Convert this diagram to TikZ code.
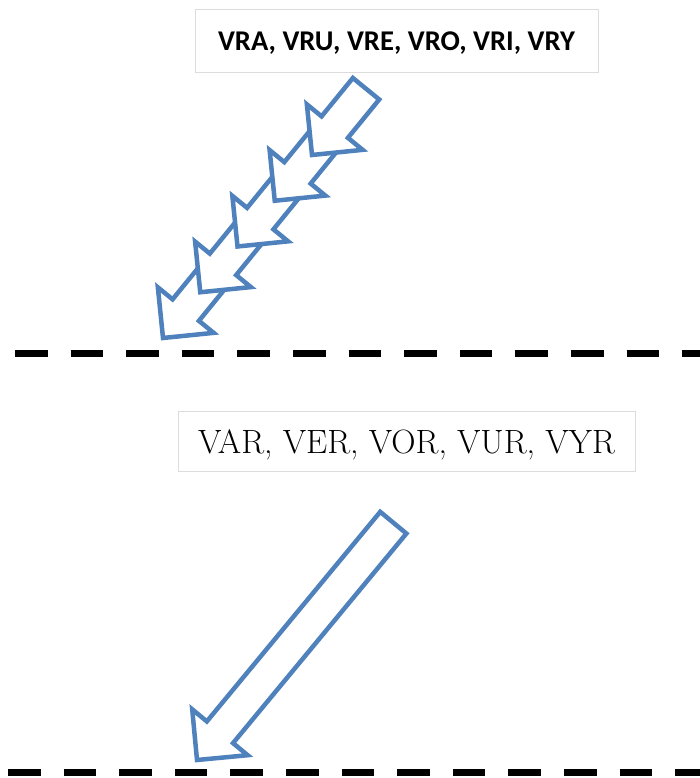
\documentclass[tikz,border=0pt]{standalone}
\usepackage{fontspec}
\newfontfamily\carlitofont{Carlito}
\definecolor{arrowblue}{RGB}{79,129,189}
\definecolor{boxgray}{RGB}{220,220,220}
\newcommand\blockarrow[4]{% tip x, tip y, length, angle
  \begin{scope}[shift={(#1,#2)}, rotate=#4]
    \draw[arrowline] (-#3,17) -- (-#3,-17) -- (-36,-17) -- (-36,-36) -- (0,0)
      -- (-36,36) -- (-36,17) -- cycle;
  \end{scope}}
\begin{document}
\begin{tikzpicture}[x=1pt,y=1pt,
  arrowline/.style={draw=arrowblue, line width=4.5pt, fill=white, line join=miter, miter limit=10},
  dashline/.style={draw=black, line width=7pt, dash pattern=on 32.5pt off 23.1pt},
  labelbox/.style={draw=boxgray, line width=1pt, fill=white, inner sep=0pt, text depth=0pt}]
\useasboundingbox (0,0) rectangle (700,778);
% label boxes
\node[labelbox, minimum width=403pt, minimum height=63pt,
  font={\carlitofont\bfseries\fontsize{28.6}{32}\selectfont}] (top) at (396.5,736.5)
  {VRA, VRU, VRE, VRO, VRI, VRY};
\node[labelbox, minimum width=457pt, minimum height=60pt,
  font={\fontsize{33.7}{38}\selectfont}] (bot) at (406.5,336)
  {VAR, VER, VOR, VUR, VYR};
% dashed lines
\coordinate (d1a) at (15,424.5);
\coordinate (d1b) at (700,424.5);
\coordinate (d2a) at (8,5.5);
\coordinate (d2b) at (700,5.5);
\draw[dashline] (d1a) -- (d1b);
\draw[dashline] (d2a) -- (d2b);
% multi-headed arrow (drawn from last to first)
\blockarrow{163}{440}{80}{230.8}
\blockarrow{200.25}{485.75}{80}{230.8}
\blockarrow{237.5}{531.5}{80}{230.8}
\blockarrow{274.75}{577.25}{80}{230.8}
\blockarrow{312}{623}{85.5}{230.8}
% single arrow
\blockarrow{197}{18}{308}{230.4}
\end{tikzpicture}
\end{document}
